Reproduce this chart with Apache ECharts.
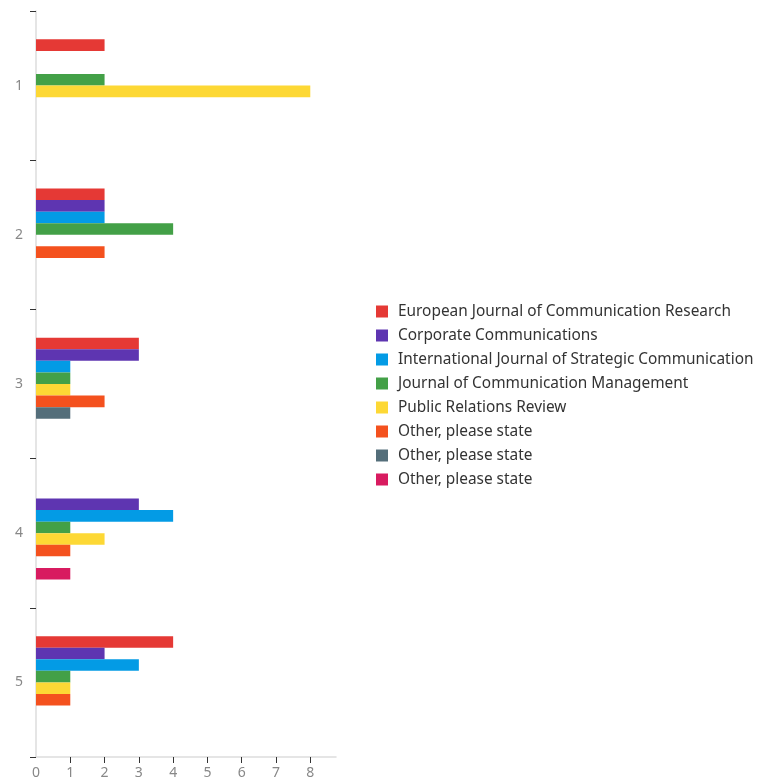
<!DOCTYPE html>
<html>
<head>
<meta charset="utf-8">
<script src="https://cdn.jsdelivr.net/npm/echarts@6/dist/echarts.min.js"></script>
<style>
html,body{margin:0;padding:0;background:#fff;}
#chart{width:758px;height:780px;}
</style>
</head>
<body>
<div id="chart"></div>
<script>
const categories = ['1', '2', '3', '4', '5'];
const seriesNames = [
  'European Journal of Communication Research',
  'Corporate Communications',
  'International Journal of Strategic Communication',
  'Journal of Communication Management',
  'Public Relations Review',
  'Other, please state#1',
  'Other, please state#2',
  'Other, please state#3'
];
const europeanJournal = [2, 2, 3, null, 4];
const corporateComm   = [null, 2, 3, 3, 2];
const intlJournal     = [null, 2, 1, 4, 3];
const journalMgmt     = [2, 4, 1, 1, 1];
const prReview        = [8, null, 1, 2, 1];
const other1          = [null, 2, 2, 1, 1];
const other2          = [null, null, 1, null, null];
const other3          = [null, null, null, 1, null];
const seriesValues = [europeanJournal, corporateComm, intlJournal, journalMgmt, prReview, other1, other2, other3];
const colors = ['#E53935', '#5E35B1', '#039BE5', '#43A047', '#FDD835', '#F4511E', '#546E7A', '#D81B60'];
const xTickLabels = [0, 1, 2, 3, 4, 5, 6, 7, 8];

const chart = echarts.init(document.getElementById('chart'));
chart.setOption({
  animation: false,
  color: colors,
  textStyle: { fontFamily: 'Noto Sans' },
  grid: { left: 36, top: 11, right: 422, bottom: 23, containLabel: false },
  legend: {
    orient: 'vertical',
    left: 376,
    top: 304,
    padding: 0,
    itemWidth: 12,
    itemHeight: 12,
    itemGap: 9,
    icon: 'rect',
    data: seriesNames,
    formatter: n => n.replace(/#\d+$/, ''),
    textStyle: { fontFamily: 'Noto Sans', fontSize: 15.4, color: '#333', padding: [0, 0, 0, 5] }
  },
  xAxis: {
    type: 'value',
    min: 0,
    max: 8.75,
    interval: 1,
    splitLine: { show: false },
    axisLine: { show: true, lineStyle: { color: '#ddd', width: 1.5 } },
    axisTick: { show: true, length: 6, customValues: xTickLabels.slice(1), lineStyle: { color: '#333' } },
    axisLabel: { customValues: xTickLabels, color: '#888', fontSize: 14, margin: 9, fontFamily: 'Noto Sans' }
  },
  yAxis: {
    type: 'category',
    data: categories,
    inverse: true,
    axisLine: { show: true, lineStyle: { color: '#ddd', width: 1.5 } },
    axisTick: { show: true, length: 6, lineStyle: { color: '#333' } },
    axisLabel: { color: '#888', fontSize: 14, margin: 13, fontFamily: 'Noto Sans' }
  },
  series: seriesNames.map((name, i) => ({
    name: name,
    type: 'bar',
    data: seriesValues[i],
    barGap: '0%',
    barCategoryGap: '38%',
    itemStyle: { color: colors[i] }
  }))
});
</script>
</body>
</html>
